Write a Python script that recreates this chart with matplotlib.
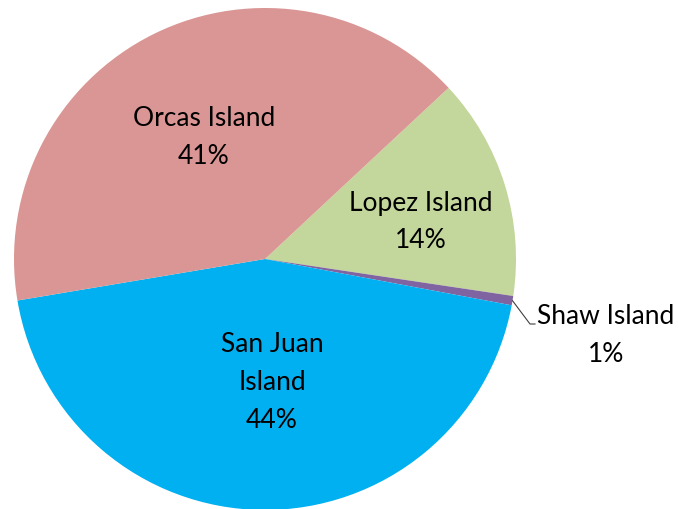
import numpy as np
import matplotlib.pyplot as plt

# slices in drawing order (clockwise from the Orcas/Lopez boundary)
islands = ["Lopez Island", "Shaw Island", "San Juan\nIsland", "Orcas Island"]
shares = [14.3, 0.6, 44.4, 40.7]
pct_labels = ["14%", "1%", "44%", "41%"]
colors = ["#C3D69B", "#8064A2", "#00B0F0", "#D99694"]

plt.rcParams['font.family'] = ['Lato', 'DejaVu Sans']

fig = plt.figure(figsize=(6.79, 5.09), dpi=100)
W, H = 679, 509
cx, cy, r = 265, 259, 251
ax = fig.add_axes([(cx - r) / W, (H - cy - r) / H, 2 * r / W, 2 * r / H])

wedges, _ = ax.pie(shares, colors=colors, startangle=43, counterclock=False,
                   radius=1, wedgeprops=dict(linewidth=0))
ax.set_xlim(-1, 1)
ax.set_ylim(-1, 1)
ax.set_aspect('equal')
ax.axis('off')


def px(x, y):
    return (x - cx) / r, (cy - y) / r


fs = 19
label_pos = {
    0: (421, 222),
    1: (606, 335),
    2: (272, 382),
    3: (204, 137),
}
for i, (name, pct) in enumerate(zip(islands, pct_labels)):
    x, y = px(*label_pos[i])
    ax.text(x, y, name + "\n" + pct, ha='center', va='center', fontsize=fs,
            linespacing=1.65, color='black')

# leader line for the small Shaw slice
w = wedges[1]
mid = np.deg2rad((w.theta1 + w.theta2) / 2)
x0, y0 = np.cos(mid), np.sin(mid)
x1, y1 = px(530, 324)
x2, y2 = px(535, 324)
ax.plot([x0, x1, x2], [y0, y1, y2], color='#404040', linewidth=0.8, clip_on=False)

fig.savefig("out.png", dpi=100)
